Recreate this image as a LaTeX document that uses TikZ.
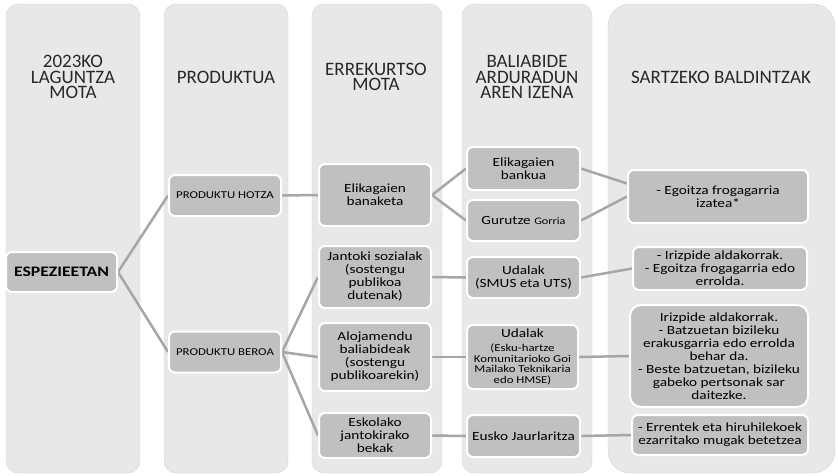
\documentclass[tikz,border=0pt]{standalone}
\usepackage{fontspec}
\setmainfont{Carlito}
\newfontfamily\widefont[FakeStretch=1.22]{Carlito}
\usetikzlibrary{backgrounds}
\definecolor{colgray}{RGB}{232,232,232}
\definecolor{boxgray}{RGB}{192,192,192}
\definecolor{linkgray}{RGB}{166,166,166}
\definecolor{headgray}{RGB}{40,40,40}
\newcommand{\subtxt}{\fontsize{10.5}{10.7}\selectfont}
\tikzset{
	column/.style={fill=colgray,draw=colgray!92!black,line width=0.4pt},
	head/.style={font=\fontsize{19}{15.5}\selectfont,align=center,text=headgray},
	box/.style={fill=boxgray,draw=white,line width=2pt,rounded corners=6pt,align=center,inner sep=1pt,
		font=\widefont\fontsize{12.5}{13}\selectfont},
	link/.style={draw=linkgray,line width=2.5pt},
}
\begin{document}
	\begin{tikzpicture}[x=1pt,y=-1pt]
		\useasboundingbox (0,0) rectangle (838,475); %orrialdea
		% goiburuak
		\node [head] (laguntza) at (73,77) {2023KO\\LAGUNTZA\\MOTA};
		\node [head] (produktua) at (226,77) {PRODUKTUA};
		\node [head] (errekurtso) at (376,77) {ERREKURTSO\\MOTA};
		\node [head] (baliabide) at (527,77) {BALIABIDE\\ARDURADUN\\AREN IZENA};
		\node [head] (baldintzak) at (721,77) {SARTZEKO BALDINTZAK};
		% laguntza eta produktuak
		\node [box,minimum width=111,minimum height=40,font=\widefont\bfseries\fontsize{14.5}{15}\selectfont] (espezieetan) at (61.5,272) {ESPEZIEETAN};
		\node [box,minimum width=112,minimum height=41,font=\widefont\fontsize{10.5}{11}\selectfont] (hotza) at (225,195.5) {PRODUKTU HOTZA};
		\node [box,minimum width=112,minimum height=41,font=\widefont\fontsize{10.5}{11}\selectfont] (beroa) at (225,352) {PRODUKTU BEROA};
		% errekurtso motak
		\node [box,minimum width=112,minimum height=62] (banaketa) at (375,195) {Elikagaien\\banaketa};
		\node [box,minimum width=112,minimum height=62] (jantoki) at (375,277) {Jantoki sozialak\\(sostengu\\publikoa\\dutenak)};
		\node [box,minimum width=112,minimum height=68] (alojamendu) at (375,357) {Alojamendu\\baliabideak\\(sostengu\\publikoarekin)};
		\node [box,minimum width=112,minimum height=45] (eskolako) at (375,435.5) {Eskolako\\jantokirako\\bekak};
		% arduradunak
		\node [box,minimum width=113,minimum height=43] (bankua) at (523.5,168.5) {Elikagaien\\bankua};
		\node [box,minimum width=113,minimum height=41] (gurutze) at (523.5,220.5) {Gurutze {\fontsize{10}{10}\selectfont Gorria}};
		\node [box,minimum width=113,minimum height=41] (udalak) at (523.5,277.5) {Udalak\\(SMUS eta UTS)};
		\node [box,minimum width=111,minimum height=64] (udalakbi) at (522.5,357) {Udalak\\[1pt]\subtxt(Esku-hartze\\[-2.3pt]\subtxt Komunitarioko Goi\\[-2.3pt]\subtxt Mailako Teknikaria\\[-2.3pt]\subtxt edo HMSE)};
		\node [box,minimum width=113,minimum height=42] (eusko) at (523.5,436) {Eusko Jaurlaritza};
		% baldintzak
		\node [box,minimum width=180,minimum height=53] (egoitza) at (718,196.5) {- Egoitza frogagarria\\izatea*};
		\node [box,minimum width=174,minimum height=43] (irizpide) at (720,268.5) {- Irizpide aldakorrak.\\- Egoitza frogagarria edo\\errolda.};
		\node [box,minimum width=178,minimum height=102,rounded corners=11pt] (irizpidebi) at (719,356) {Irizpide aldakorrak.\\- Batzuetan bizileku\\erakusgarria edo errolda\\behar da.\\- Beste batzuetan, bizileku\\gabeko pertsonak sar\\daitezke.};
		\node [box,minimum width=176,minimum height=40] (errentek) at (720,435) {- Errentek eta hiruhilekoek\\ezarritako mugak betetzea};
		\begin{scope}[on background layer]
			% zutabeak
			\draw [column,rounded corners=12] (6,4) rectangle (140,473);
			\draw [column,rounded corners=12] (164,4) rectangle (288,473);
			\draw [column,rounded corners=12] (312,4) rectangle (442,473);
			\draw [column,rounded corners=12] (462,4) rectangle (592,473);
			\draw [column,rounded corners=22] (608,4) rectangle (835,473);
			% loturak
			\draw [link] (espezieetan.east) -- (hotza.west);
			\draw [link] (espezieetan.east) -- (beroa.west);
			\draw [link] (hotza.east) -- (banaketa.west);
			\draw [link] (banaketa.east) -- (bankua.west);
			\draw [link] (banaketa.east) -- (gurutze.west);
			\draw [link] (bankua.east) -- ([yshift=13pt]egoitza.west);
			\draw [link] (gurutze.east) -- (egoitza.west);
			\draw [link] (beroa.east) -- (jantoki.west);
			\draw [link] (beroa.east) -- (alojamendu.west);
			\draw [link] (beroa.east) -- (eskolako.west);
			\draw [link] (jantoki.east) -- (udalak.west);
			\draw [link] (alojamendu.east) -- (udalakbi.west);
			\draw [link] (eskolako.east) -- (eusko.west);
			\draw [link] (udalak.east) -- (irizpide.west);
			\draw [link] (udalakbi.east) -- (irizpidebi.west);
			\draw [link] (eusko.east) -- (errentek.west);
		\end{scope}
	\end{tikzpicture}
\end{document}
